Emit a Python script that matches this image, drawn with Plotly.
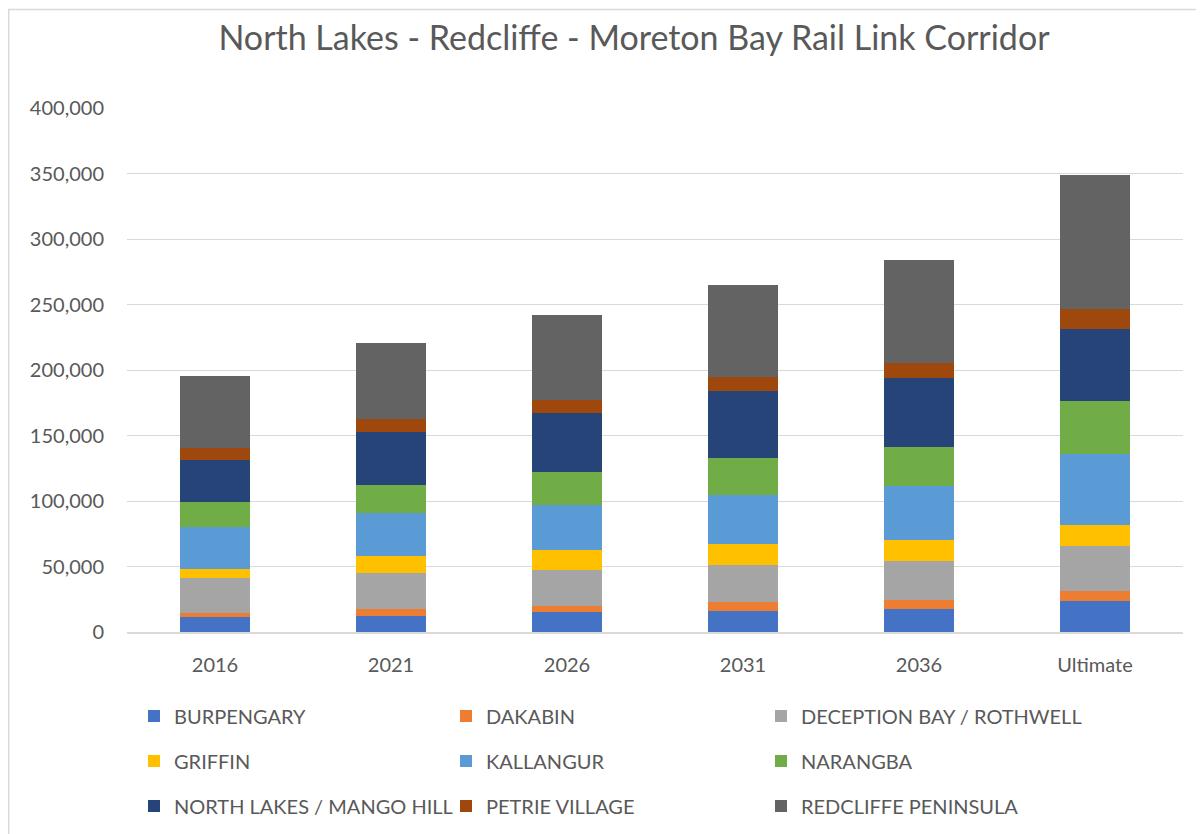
import plotly.graph_objects as go

categories = ["2016", "2021", "2026", "2031", "2036", "Ultimate"]

series_names = [
    "BURPENGARY", "DAKABIN", "DECEPTION BAY / ROTHWELL",
    "GRIFFIN", "KALLANGUR", "NARANGBA",
    "NORTH LAKES / MANGO HILL", "PETRIE VILLAGE", "REDCLIFFE PENINSULA",
]

burpengary = [11200, 12500, 15000, 16000, 17800, 23900]
dakabin = [3500, 5300, 5100, 6600, 6400, 7200]
deception_bay = [26800, 27200, 27500, 28800, 30200, 34300]
griffin = [6800, 12800, 15000, 16000, 15800, 16300]
kallangur = [32100, 32800, 34600, 37200, 41000, 53900]
narangba = [19100, 21900, 25200, 28200, 30300, 40700]
north_lakes = [31500, 39900, 44500, 50900, 52100, 54800]
petrie = [9200, 9900, 10000, 10700, 11500, 15700]
redcliffe = [55200, 58300, 65100, 70200, 78900, 102300]

series_values = [burpengary, dakabin, deception_bay, griffin, kallangur,
                 narangba, north_lakes, petrie, redcliffe]

colors = ["#4472C4", "#ED7D31", "#A5A5A5", "#FFC000", "#5B9BD5",
          "#70AD47", "#264478", "#9E480E", "#636363"]

# legend laid out in three columns (one plotly legend per column)
legend_ids = ["legend", "legend2", "legend3",
              "legend", "legend2", "legend3",
              "legend", "legend2", "legend3"]

FONT = "Lato"
TXT = "#595959"

# page body has an 8px margin: figure origin sits at screen (8, 8)
OFF = 8
W, H = 1204 - OFF, 834 - OFF
ml, mr, mt, mb = 127 - OFF, 21, 108 - OFF, 202
ph = H - mt - mb
pw = W - ml - mr


def ypaper(screen_y):
    return (H - mb - (screen_y - OFF)) / ph


def xpaper(screen_x):
    return (screen_x - OFF - ml) / pw


fig = go.Figure()
for i, (name, vals, col, lg) in enumerate(zip(series_names, series_values, colors, legend_ids)):
    fig.add_trace(go.Bar(
        x=categories, y=vals, name=name,
        marker=dict(color=col, line=dict(width=0)),
        legend=lg, legendgroup=f"g{i}",
    ))

leg_common = dict(
    orientation="v", xanchor="left", yanchor="middle",
    y=ypaper(761), font=dict(family=FONT, size=20, color=TXT),
    traceorder="grouped", tracegroupgap=16,
    bgcolor="rgba(0,0,0,0)", itemclick=False, itemdoubleclick=False,
)

fig.update_layout(
    width=W, height=H,
    margin=dict(l=ml, r=mr, t=mt, b=mb, autoexpand=False),
    barmode="stack",
    bargap=0.6,
    paper_bgcolor="white",
    plot_bgcolor="white",
    font=dict(family=FONT, color=TXT),
    title=dict(
        text="North Lakes - Redcliffe - Moreton Bay Rail Link Corridor",
        x=(634 - OFF) / W, xref="container", xanchor="center",
        y=1 - (38 - OFF) / H, yanchor="middle", yref="container",
        font=dict(family=FONT, size=34, color=TXT),
    ),
    legend=dict(**leg_common, x=xpaper(134)),
    legend2=dict(**leg_common, x=xpaper(446)),
    legend3=dict(**leg_common, x=xpaper(761)),
    xaxis=dict(
        showgrid=False, showline=True, linecolor="#d9d9d9", linewidth=1.5,
        tickfont=dict(family=FONT, size=20, color=TXT),
        ticks="", ticklabelstandoff=14,
    ),
    yaxis=dict(
        range=[0, 400000], dtick=50000, tickformat=",",
        showgrid=True, gridcolor="#d9d9d9", gridwidth=1.3,
        zeroline=False, showline=False,
        tickfont=dict(family=FONT, size=20, color=TXT),
        ticks="", ticklabelstandoff=22,
    ),
    shapes=[dict(
        type="rect", xref="paper", yref="paper",
        x0=xpaper(8.7), x1=xpaper(1230), y0=ypaper(860), y1=ypaper(9.5),
        line=dict(color="#d9d9d9", width=1.5), fillcolor="rgba(0,0,0,0)",
        layer="below",
    )],
)

fig.write_html("out.html")
